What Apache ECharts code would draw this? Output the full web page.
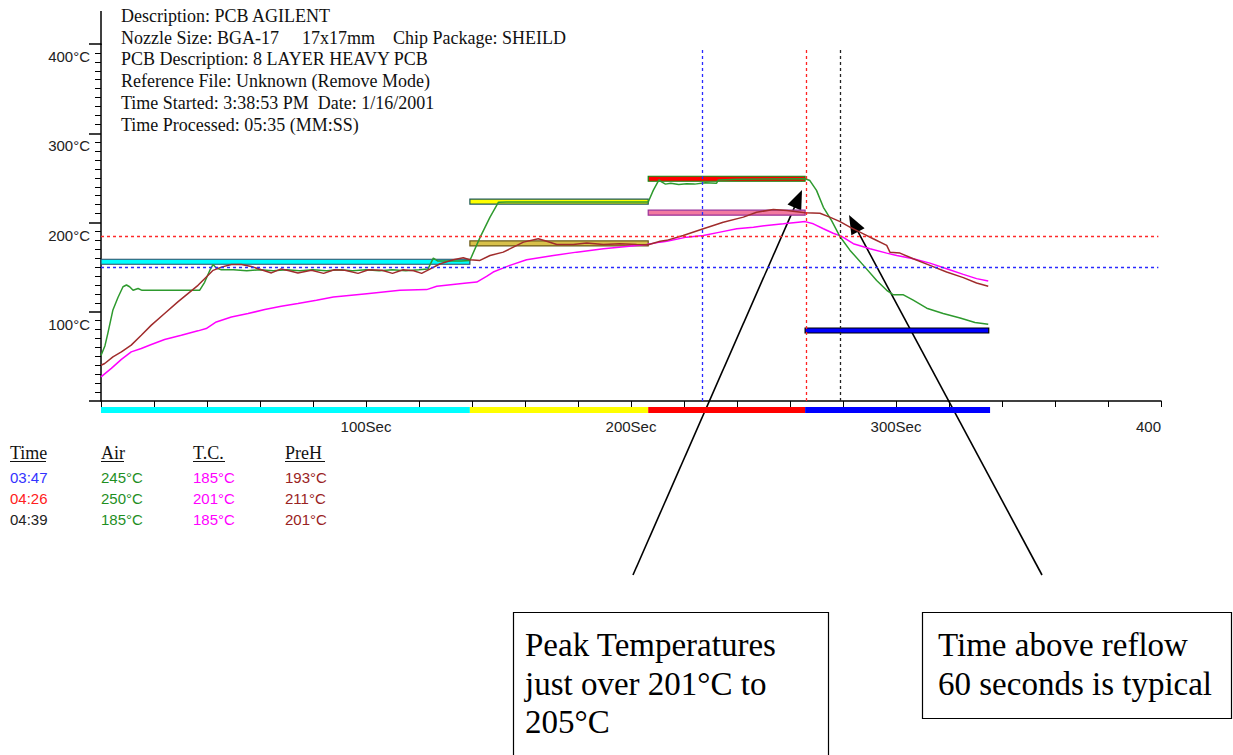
<!DOCTYPE html>
<html><head><meta charset="utf-8">
<script src="https://cdn.jsdelivr.net/npm/echarts@6/dist/echarts.min.js"></script>
<style>html,body{margin:0;padding:0;background:#fff}#c{width:1233px;height:755px}</style>
</head><body><div id="c"></div>
<script>
// ---- data (time in seconds, temperature in °C) ----
const airData = [[0,51],[1.5,62],[2.6,76],[4.5,102],[6.4,116],[8.3,128],[9.6,130],[10.8,128],[12.1,124],[14,126],[15.5,124],[37.2,124],[39.1,133],[41,146],[42.3,153],[43.5,149],[45.4,147],[50,147],[55,146],[60,147],[65,146],[70,147],[75,146],[80,147],[85,146],[90,147],[95,146],[100,147],[105,146],[110,147],[115,146],[120,147],[123.4,148],[125.4,160],[127,157],[132,157],[136,157],[139.2,157.5],[143,183],[146.8,206],[150,222.7],[153,223],[206.5,223],[208.4,236],[210.6,248],[211.2,246],[213,243],[215,244],[218,242.5],[221,243.5],[224,243],[228,244.5],[232.3,244],[233,247.7],[240,248.5],[265.7,249],[267.5,247],[270,236],[272.6,217],[275.7,202],[278.9,184],[282.6,169],[288.3,150],[292.7,135],[296.5,124],[299,119],[302.8,119],[306.5,113],[311.6,104],[317.8,98],[324.2,93],[329.8,88],[334.8,86]];
const tcData = [[0,27],[3.9,36.5],[7.7,46.6],[11.4,55],[15.2,58.9],[19,63.3],[24,68.9],[30.3,73.7],[36.6,78.6],[39.7,81.2],[43.5,88.6],[49.2,94.2],[55.5,98],[61.8,102.5],[68,106.1],[74.3,109.2],[81.3,112.8],[87.7,116.5],[100.3,120.3],[112.8,124],[122.9,124.8],[126.7,128.5],[138,132.2],[141.8,133.3],[145.5,139.7],[148,144.5],[154.3,152],[160.6,158.3],[170.7,163],[179.5,166.8],[189.6,170.6],[198.4,173.2],[205.9,175.4],[211,178],[213.5,179],[221,183.6],[227.3,185.5],[233.6,189.2],[239.9,193],[246.2,194.8],[251.2,196.6],[257.5,198.5],[263.1,200.3],[265.7,201],[268.8,198.5],[272.6,193],[276.3,188],[279.5,184.5],[283.9,176.2],[290.2,170.6],[296.5,165.7],[300.3,163],[306.5,159.4],[312.8,154.5],[319.1,148.2],[325.4,141.9],[330.4,137.1],[334.8,134.4]];
const prehData = [[0,40],[1.4,42],[4.5,49.5],[7.7,55],[11.4,62.6],[15.2,73.7],[19,85],[24,98],[29,111],[32.8,120.3],[36.6,129.6],[39.1,137],[42.3,146.4],[45.4,150],[49.2,153],[53,153],[56.7,150.8],[60.5,147],[64.3,143.5],[68,148],[71,146],[74.3,143.5],[79.4,146.4],[84,143],[88,147],[92,146.5],[97,143],[101,147],[106,146.5],[110,143],[114,147],[118,146],[121,143],[123,146],[128,153.8],[133,158.3],[136.7,160.5],[139.2,158.3],[143,157.5],[146.8,163],[151.8,166.8],[155.6,172.4],[159.4,178],[165,181.8],[168.2,179],[172,175.4],[178.2,175.4],[183.3,176.9],[189.6,175.4],[195.8,176.2],[202.1,175.4],[206.5,175],[211,179],[213.5,180],[219.7,185.5],[227.3,193],[234.8,200.3],[242.4,206],[247.4,211.5],[253.7,214.5],[258.8,213.4],[265.7,211],[271.3,210.4],[275,206],[278.9,201],[282.6,194.8],[287.7,187.3],[291.4,181.8],[296.5,174.3],[297.7,166.8],[301.5,165.7],[306.5,159.4],[312.8,152],[319.1,144.5],[325.4,138.2],[330.4,132.2],[334.8,128.5]];

// setpoint bars: start, end, temperature
const setStart = [0, 139.2, 139.2, 206.5, 206.5, 265.7];
const setEnd   = [139.2, 206.5, 206.5, 265.7, 265.7, 335];
const setTemp  = [156, 223.5, 176.5, 249, 211, 79];

// phase band boundaries (s)
const phaseBounds = [0, 139.2, 206.5, 265.7, 335.5];

// cursor times (s) and reference temperatures (°C)
const cursorTimes = [227, 266, 279];
const cursorTop = 396;
const refTemps = [185, 150];
const refEnd = 399;

// ticks
const xTickLabels = [100, 200, 300, 400];
const yTickLabels = [100, 200, 300, 400];

// readout table
const tableHead = ['Time', 'Air', 'T.C.', 'PreH'];
const tableRows = [
  ['03:47', '245°C', '185°C', '193°C'],
  ['04:26', '250°C', '201°C', '211°C'],
  ['04:39', '185°C', '185°C', '201°C']
];
const headerLines = [
  'Description: PCB AGILENT',
  'Nozzle Size: BGA-17',
  'PCB Description: 8 LAYER HEAVY PCB',
  'Reference File: Unknown (Remove Mode)',
  'Time Started: 3:38:53 PM  Date: 1/16/2001',
  'Time Processed: 05:35 (MM:SS)'
];

// ---- styles ----
const setFill   = ['#00ffff', '#ffff00', '#d8c04a', '#ff0000', '#f27aa0', '#0000ff'];
const setStroke = ['#2b4a66', '#1e5a5a', '#6b5a1a', '#118811', '#993399', '#000000'];
const phaseColors = ['#00ffff', '#ffff00', '#ff0000', '#0000ff'];
const cursorColors = ['#2a2aff', '#ff2222', '#222222'];
const refColors = ['#ff2a2a', '#2a2aff'];
const rowTimeColors = ['#3333ff', '#ff2020', '#222222'];
const colColors = [null, '#1f8f1f', '#ff00ff', '#992222'];
const colX = [10, 101, 193, 285];
const underlineW = [36, 23, 32, 40];

const chart = echarts.init(document.getElementById('c'), null, {renderer: 'svg'});

const serif = '"Liberation Serif","Times New Roman",serif';
const sans = '"Liberation Sans",Arial,sans-serif';

const graphics = [];
// upward extension of the temperature axis line above 400°C
graphics.push({type: 'line', shape: {x1: 101, y1: 11, x2: 101, y2: 45}, style: {stroke: '#000', lineWidth: 1.5}});

headerLines.forEach((t, i) => {
  graphics.push({type: 'text', x: 121, y: 16 + i * 21.7, style: {text: t, font: '18px ' + serif, fill: '#111', verticalAlign: 'middle'}});
});
graphics.push({type: 'text', x: 302, y: 16 + 21.7, style: {text: '17x17mm', font: '18px ' + serif, fill: '#111', verticalAlign: 'middle'}});
graphics.push({type: 'text', x: 393, y: 16 + 21.7, style: {text: 'Chip Package: SHEILD', font: '18px ' + serif, fill: '#111', verticalAlign: 'middle'}});

tableHead.forEach((h, j) => {
  graphics.push({type: 'text', x: colX[j], y: 453, style: {text: h, font: '18px ' + serif, fill: '#111', verticalAlign: 'middle'}});
  graphics.push({type: 'line', shape: {x1: colX[j], y1: 461.5, x2: colX[j] + underlineW[j], y2: 461.5}, style: {stroke: '#111', lineWidth: 1}});
});
tableRows.forEach((r, i) => {
  r.forEach((c, j) => {
    graphics.push({type: 'text', x: colX[j], y: 477 + i * 21, style: {text: c, font: '15px ' + sans, fill: j === 0 ? rowTimeColors[i] : colColors[j], verticalAlign: 'middle'}});
  });
});

function arrow(x0, y0, x1, y1) {
  const dx = x1 - x0, dy = y1 - y0, L = Math.hypot(dx, dy), ux = dx / L, uy = dy / L;
  const len = 19, half = 7.5;
  const bx = x1 - ux * len, by = y1 - uy * len;
  graphics.push({type: 'line', shape: {x1: x0, y1: y0, x2: bx + ux * 2, y2: by + uy * 2}, style: {stroke: '#000', lineWidth: 1.6}});
  graphics.push({type: 'polygon', shape: {points: [[x1, y1], [bx - uy * half, by + ux * half], [bx + uy * half, by - ux * half]]}, style: {fill: '#000'}});
}
arrow(633, 575, 802, 190);
arrow(1042, 575, 849, 215);

graphics.push({type: 'rect', shape: {x: 513.5, y: 612.5, width: 315, height: 150}, style: {fill: '#fff', stroke: '#000', lineWidth: 1.2}});
graphics.push({type: 'rect', shape: {x: 922.5, y: 612.5, width: 309, height: 106}, style: {fill: '#fff', stroke: '#000', lineWidth: 1.2}});
['Peak Temperatures', 'just over 201°C to', '205°C'].forEach((t, i) => {
  graphics.push({type: 'text', x: 525, y: 645 + i * 38.5, style: {text: t, font: '33px ' + serif, fill: '#000', verticalAlign: 'middle'}});
});
['Time above reflow', '60 seconds is typical'].forEach((t, i) => {
  graphics.push({type: 'text', x: 938, y: 645 + i * 38.5, style: {text: t, font: '33px ' + serif, fill: '#000', verticalAlign: 'middle'}});
});

const markLineData = [];
cursorTimes.forEach((t, i) => {
  markLineData.push([{coord: [t, 0], lineStyle: {color: cursorColors[i]}}, {coord: [t, cursorTop]}]);
});
refTemps.forEach((v, i) => {
  markLineData.push([{coord: [0, v], lineStyle: {color: refColors[i]}}, {coord: [refEnd, v]}]);
});

const lineBase = {type: 'line', showSymbol: false, symbol: 'none', animation: false, silent: true};

chart.setOption({
  animation: false,
  backgroundColor: '#fff',
  grid: {left: 101, right: 72, top: 44, bottom: 354, containLabel: false, outerBoundsMode: 'none'},
  xAxis: {
    type: 'value', min: 0, max: 400, interval: 20,
    axisLine: {show: true, onZero: false, lineStyle: {color: '#000', width: 1.5}},
    axisTick: {show: true, length: 6, lineStyle: {color: '#000', width: 1}},
    axisLabel: {customValues: xTickLabels, formatter: v => v === 400 ? '400' : v + 'Sec', margin: 18, alignMaxLabel: 'right', color: '#222', fontFamily: sans, fontSize: 15},
    splitLine: {show: false}
  },
  yAxis: {
    type: 'value', min: 0, max: 400, interval: 100,
    axisLine: {show: true, onZero: false, lineStyle: {color: '#000', width: 1.5}},
    axisTick: {show: true, length: 12, lineStyle: {color: '#000', width: 1.5}},
    minorTick: {show: true, splitNumber: 10, length: 6, lineStyle: {color: '#000', width: 1}},
    axisLabel: {formatter: v => yTickLabels.indexOf(v) >= 0 ? v + '°C' : '', verticalAlign: 'top', padding: [5, 0, 0, 0], margin: 11, color: '#222', fontFamily: sans, fontSize: 15},
    splitLine: {show: false},
    minorSplitLine: {show: false}
  },
  series: [
    {
      type: 'custom', name: 'phase', clip: false, silent: true,
      data: phaseBounds.slice(0, -1).map((s, i) => [s, phaseBounds[i + 1]]),
      encode: {x: [0, 1]},
      renderItem(params, api) {
        const p0 = api.coord([api.value(0), 0]);
        const p1 = api.coord([api.value(1), 0]);
        return {type: 'rect', shape: {x: p0[0], y: p0[1] + 6, width: p1[0] - p0[0], height: 6}, style: {fill: phaseColors[params.dataIndex]}};
      }
    },
    Object.assign({}, lineBase, {
      name: 'markers', data: [], z: 1,
      markLine: {silent: true, symbol: 'none', animation: false, label: {show: false},
        lineStyle: {type: [3, 3], width: 1.3}, data: markLineData}
    }),
    {
      type: 'custom', name: 'setpoints', silent: true, z: 2,
      data: setStart.map((s, i) => [s, setEnd[i], setTemp[i]]),
      encode: {x: [0, 1], y: 2},
      renderItem(params, api) {
        const i = params.dataIndex;
        const p0 = api.coord([api.value(0), api.value(2)]);
        const p1 = api.coord([api.value(1), api.value(2)]);
        return {type: 'rect', shape: {x: p0[0], y: p0[1] - 2.5, width: p1[0] - p0[0], height: 5}, style: {fill: setFill[i], stroke: setStroke[i], lineWidth: 1.2}};
      }
    },
    Object.assign({}, lineBase, {name: 'T.C.', data: tcData, z: 3, lineStyle: {color: '#ff00ff', width: 1.5}}),
    Object.assign({}, lineBase, {name: 'Air', data: airData, z: 3, lineStyle: {color: '#2e9a2e', width: 1.5}}),
    Object.assign({}, lineBase, {name: 'PreH', data: prehData, z: 3, lineStyle: {color: '#a02c2c', width: 1.5}})
  ],
  graphic: graphics
});
</script>
</body></html>
